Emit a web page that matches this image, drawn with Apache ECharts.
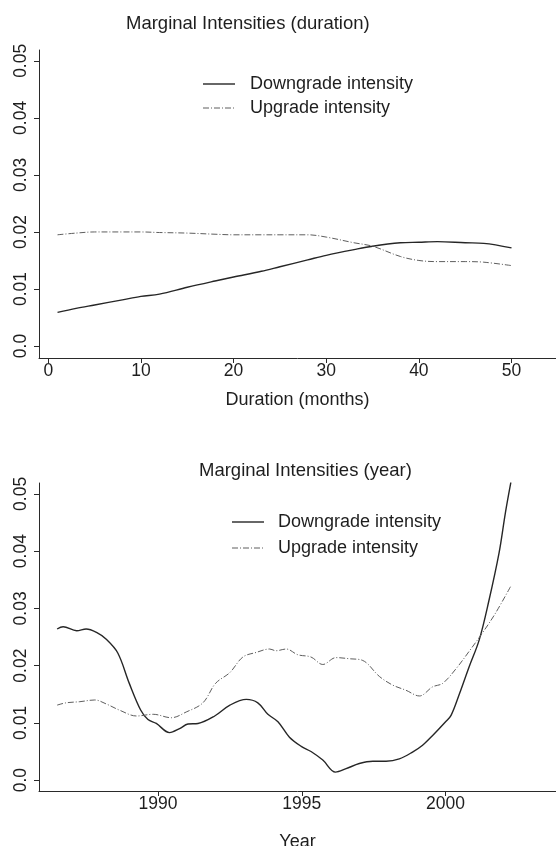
<!DOCTYPE html>
<html>
<head>
<meta charset="utf-8">
<script src="https://cdn.jsdelivr.net/npm/echarts@6/dist/echarts.min.js"></script>
<style>
html,body{margin:0;padding:0;background:#fff;}
#chart{width:556px;height:846px;}
</style>
</head>
<body>
<div id="chart"></div>
<script>
// ---- Data ----
var seriesNames = ["Downgrade intensity", "Upgrade intensity"];

var durX    = [1, 3, 5, 8, 10, 12, 15, 18, 20, 23, 25, 28, 30, 33, 35, 38, 40, 42, 45, 47, 50];
var durDown = [0.0059, 0.0066, 0.0072, 0.0081, 0.0087, 0.0091, 0.0103, 0.0114, 0.0121, 0.0131, 0.0139, 0.0151, 0.0159, 0.0169, 0.0175, 0.0181, 0.0182, 0.0183, 0.0181, 0.0180, 0.0172];
var durUp   = [0.0195, 0.0198, 0.0200, 0.0200, 0.0200, 0.0199, 0.0198, 0.0196, 0.0195, 0.0195, 0.0195, 0.0195, 0.0191, 0.0181, 0.0175, 0.0157, 0.0150, 0.0148, 0.0148, 0.0147, 0.0141];

var yrDownX = [1986.49, 1986.7, 1987.17, 1987.5, 1987.86, 1988.2, 1988.6, 1989.0, 1989.4, 1989.65, 1989.94, 1990.4, 1990.75, 1991.04, 1991.39, 1991.97, 1992.5, 1993.07, 1993.47, 1993.82, 1994.17, 1994.57, 1994.98, 1995.32, 1995.73, 1996.17, 1996.54, 1997.0, 1997.47, 1997.93, 1998.39, 1998.85, 1999.2, 1999.55, 2000.0, 2000.19, 2000.47, 2000.82, 2001.17, 2001.5, 2001.86, 2002.08, 2002.27];
var yrDown  = [0.0264, 0.0268, 0.0261, 0.0264, 0.0258, 0.0246, 0.0222, 0.0169, 0.0122, 0.0106, 0.0099, 0.0083, 0.0090, 0.0098, 0.0099, 0.0112, 0.0131, 0.0141, 0.0135, 0.0115, 0.0102, 0.0075, 0.0059, 0.0050, 0.0035, 0.0014, 0.0020, 0.0029, 0.0033, 0.0033, 0.0037, 0.0049, 0.0061, 0.0078, 0.0102, 0.0113, 0.0149, 0.0198, 0.0245, 0.0312, 0.0397, 0.0467, 0.0520];

var yrUpX = [1986.49, 1986.8, 1987.28, 1987.8, 1988.2, 1988.67, 1989.25, 1989.83, 1990.46, 1990.98, 1991.56, 1992.0, 1992.5, 1992.95, 1993.41, 1993.88, 1994.1, 1994.46, 1994.86, 1995.32, 1995.73, 1996.19, 1996.66, 1997.12, 1997.7, 1998.16, 1998.62, 1999.09, 1999.55, 1999.9, 2000.37, 2000.82, 2001.28, 2001.74, 2002.27];
var yrUp  = [0.0131, 0.0135, 0.0137, 0.0140, 0.0133, 0.0122, 0.0112, 0.0115, 0.0109, 0.0119, 0.0135, 0.0169, 0.0188, 0.0215, 0.0223, 0.0229, 0.0226, 0.0229, 0.0219, 0.0215, 0.0202, 0.0214, 0.0212, 0.0209, 0.0181, 0.0166, 0.0157, 0.0147, 0.0163, 0.0169, 0.0195, 0.0225, 0.0257, 0.0292, 0.0339];

var yTicks = [0, 0.01, 0.02, 0.03, 0.04, 0.05];
var durTicks = [0, 10, 20, 30, 40, 50];
var yearTicks = [1990, 1995, 2000];

var titles = ["Marginal Intensities (duration)", "Marginal Intensities (year)"];
var xNames = ["Duration (months)", "Year"];

function pairs(xs, ys) { return xs.map(function (x, i) { return [x, ys[i]]; }); }

var FONT = '"Liberation Sans", Arial, Helvetica, sans-serif';
var TXT = '#1e1e1e';
var AX = '#2a2a2a';
var SOLID_C = '#262626', DD_C = '#5e5e5e', DD = [6, 2, 1, 2];

function yAxis(gi) {
  return {
    type: 'value', gridIndex: gi,
    min: gi === 0 ? -0.0021 : -0.0019, max: 0.0519,
    splitLine: { show: false },
    axisLine: { show: true, onZero: false, lineStyle: { color: AX, width: 1 } },
    axisTick: { show: true, length: 5, lineStyle: { color: AX }, customValues: yTicks },
    axisLabel: {
      customValues: yTicks, rotate: 90, margin: 9, color: TXT, fontSize: 17.5, fontFamily: FONT,
      formatter: function (v) { return v === 0 ? '0.0' : v.toFixed(2); }
    }
  };
}

function xAxis(gi, min, max, ticks, name, gap) {
  return {
    type: 'value', gridIndex: gi, min: min, max: max,
    name: name, nameLocation: 'middle', nameGap: gap,
    nameTextStyle: { color: TXT, fontSize: 18, fontFamily: FONT },
    splitLine: { show: false },
    axisLine: { show: true, onZero: false, lineStyle: { color: AX, width: 1 } },
    axisTick: { show: true, length: 5, lineStyle: { color: AX }, customValues: ticks },
    axisLabel: { customValues: ticks, margin: 4, color: TXT, fontSize: 17.5, fontFamily: FONT,
      formatter: function (v) { return String(v); } }
  };
}

var solid = { color: SOLID_C, width: 1.4, type: 'solid' };
var dashdot = { color: DD_C, width: 1, type: DD };

function line(name, gi, data, style) {
  return {
    name: name, type: 'line', xAxisIndex: gi, yAxisIndex: gi,
    data: data, showSymbol: false, symbol: 'none', smooth: 0.35,
    lineStyle: style, itemStyle: { color: style.color }, silent: true, animation: false
  };
}

function legendGroup(x, y1, y2, textX) {
  var items = [];
  [[y1, solid, seriesNames[0]], [y2, dashdot, seriesNames[1]]].forEach(function (r) {
    items.push({ type: 'line', shape: { x1: x, y1: r[0], x2: x + 32, y2: r[0] },
      style: { stroke: r[1].color, lineWidth: r[1].width, lineDash: r[1].type === 'solid' ? null : DD } });
    items.push({ type: 'text', x: textX, y: r[0],
      style: { text: r[2], fill: TXT, font: '18px ' + FONT, textVerticalAlign: 'middle', verticalAlign: 'middle' } });
  });
  return items;
}

var chart = echarts.init(document.getElementById('chart'), null, { renderer: 'canvas' });
chart.setOption({
  backgroundColor: '#fff',
  animation: false,
  title: [
    { text: titles[0], left: 121, top: 9, textStyle: { color: TXT, fontSize: 18.5, fontWeight: 'normal', fontFamily: FONT } },
    { text: titles[1], left: 194, top: 456, textStyle: { color: TXT, fontSize: 18.5, fontWeight: 'normal', fontFamily: FONT } }
  ],
  graphic: legendGroup(203, 84, 108, 250).concat(legendGroup(232, 522, 548, 278)),
  grid: [
    { left: 39, right: 0, top: 50, height: 308, containLabel: false, outerBoundsMode: 'none' },
    { left: 39, right: 0, top: 483, height: 308, containLabel: false, outerBoundsMode: 'none' }
  ],
  xAxis: [
    xAxis(0, -1, 54.8, durTicks, xNames[0], 33),
    xAxis(1, 1985.86, 2003.84, yearTicks, xNames[1], 42)
  ],
  yAxis: [yAxis(0), yAxis(1)],
  series: [
    line(seriesNames[0], 0, pairs(durX, durDown), solid),
    line(seriesNames[1], 0, pairs(durX, durUp), dashdot),
    line(seriesNames[0], 1, pairs(yrDownX, yrDown), solid),
    line(seriesNames[1], 1, pairs(yrUpX, yrUp), dashdot)
  ]
});
</script>
</body>
</html>
